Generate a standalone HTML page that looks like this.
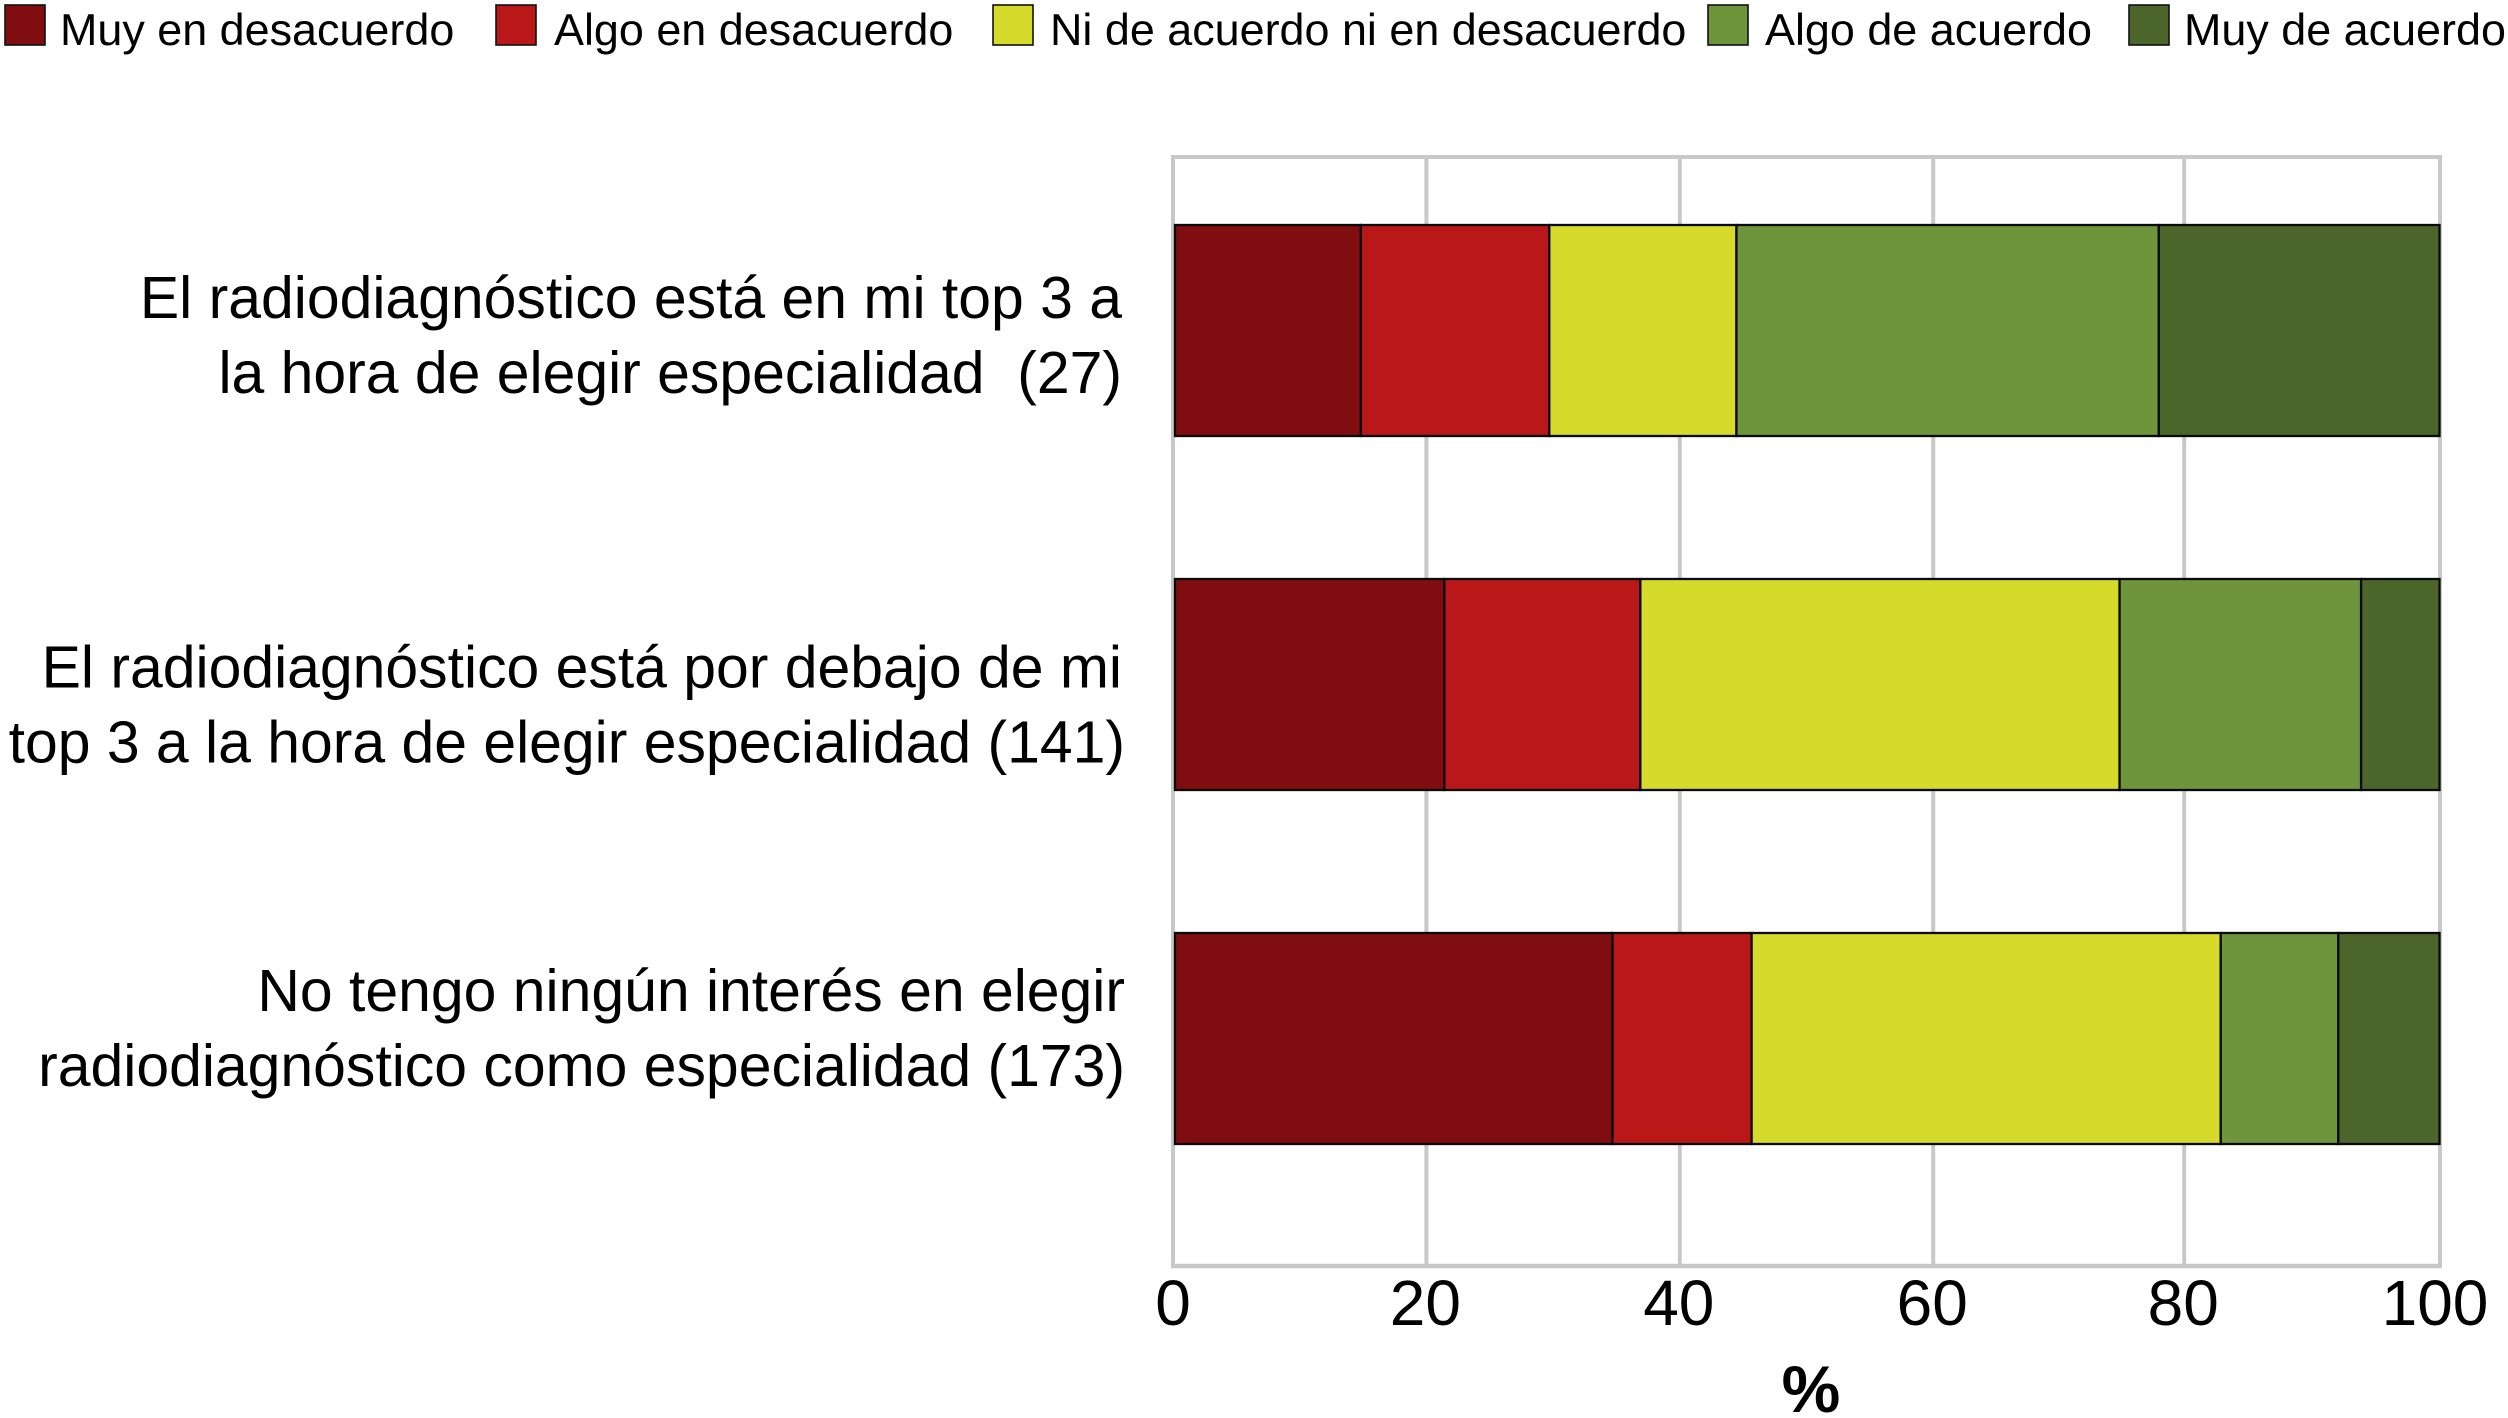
<!DOCTYPE html>
<html lang="es">
<head>
<meta charset="utf-8">
<title>Radiodiagnóstico como especialidad</title>
<style>
html,body{margin:0;padding:0;background:#fff;}
svg{display:block;font-family:"Liberation Sans",Arial,sans-serif;fill:#000;}
</style>
</head>
<body>
<svg id="chart" xmlns="http://www.w3.org/2000/svg" width="2508" height="1418" viewBox="0 0 2508 1418">
  <rect x="0" y="0" width="2508" height="1418" fill="#ffffff"/>
  <g id="legend"></g>
  <g id="grid"></g>
  <g id="bars"></g>
  <g id="categories"></g>
  <g id="ticks"></g>
  <text x="1811" y="1412" text-anchor="middle" font-size="66" font-weight="bold">%</text>
</svg>
<script>
const seriesNames = ["Muy en desacuerdo", "Algo en desacuerdo", "Ni de acuerdo ni en desacuerdo", "Algo de acuerdo", "Muy de acuerdo"];
const seriesColors = ["#800d10", "#ba1718", "#d6da2b", "#6f953c", "#4c652a"];
const categoryLines = [
  ["El radiodiagnóstico está en mi top 3 a", "la hora de elegir especialidad  (27)"],
  ["El radiodiagnóstico está por debajo de mi", "top 3 a la hora de elegir especialidad (141)"],
  ["No tengo ningún interés en elegir", "radiodiagnóstico como especialidad (173)"]
];
const muyDesacuerdo = [14.7, 21.3, 34.6];
const algoDesacuerdo = [14.9, 15.5, 11.0];
const niDeAcuerdo = [14.8, 37.9, 37.1];
const algoAcuerdo = [33.4, 19.1, 9.3];
const muyAcuerdo = [22.2, 6.2, 8.0];
const tickValues = [0, 20, 40, 60, 80, 100];

const series = [muyDesacuerdo, algoDesacuerdo, niDeAcuerdo, algoAcuerdo, muyAcuerdo];
const NS = "http://www.w3.org/2000/svg";
const plot = {left: 1173, right: 2440, top: 157, bottom: 1266};
const barLeft = 1175, barRight = 2439.5, barHeight = 211;
const bandStart = 225, bandStep = 354;
const gridX = v => plot.left + (plot.right - plot.left) * v / 100 - (v === 80 ? 2.4 : 0);
const barX = v => barLeft + (barRight - barLeft) * v / 100;
const bandY = i => bandStart + bandStep * i;

function make(tag, attrs, parent, text) {
  const el = document.createElementNS(NS, tag);
  for (const k in attrs) el.setAttribute(k, attrs[k]);
  if (text !== undefined) el.textContent = text;
  parent.appendChild(el);
  return el;
}

/* legend */
const legend = document.getElementById("legend");
const swatchXs = [4, 495, 992, 1707, 2128];
const legendTextGap = [56, 59, 58, 58, 56];
seriesNames.forEach((name, s) => {
  const sw = make("rect", {x: swatchXs[s] + 1, y: 5, width: 40, height: 40, fill: seriesColors[s], stroke: "#111", "stroke-width": 1.6}, legend);
  
  
  const t = make("text", {x: swatchXs[s] + legendTextGap[s], y: 45, "font-size": 44.9}, legend, name);
  
  
});

/* grid and plot frame */
const grid = document.getElementById("grid");
tickValues.forEach(v => {
  const l = make("line", {x1: gridX(v), x2: gridX(v), y1: plot.top, y2: plot.bottom, stroke: "#c8c8c8", "stroke-width": 4}, grid);
  
  
});
const topLine = make("line", {x1: plot.left - 2, x2: plot.right + 2, y1: plot.top, y2: plot.top, stroke: "#c8c8c8", "stroke-width": 4}, grid);


const botLine = make("line", {x1: plot.left - 2, x2: plot.right + 2, y1: plot.bottom, y2: plot.bottom, stroke: "#c8c8c8", "stroke-width": 4.4}, grid);



/* bars */
const bars = document.getElementById("bars");
categoryLines.forEach((lines, c) => {
  let cum = 0;
  series.forEach((vals, s) => {
    const v = vals[c];
    const r = make("rect", {x: barX(cum), y: bandY(c), width: barX(cum + v) - barX(cum), height: barHeight, fill: seriesColors[s], stroke: "#0a0a0a", "stroke-width": 2.3}, bars);
    
    
    cum += v;
  });
});

/* category labels */
const cats = document.getElementById("categories");
const catRightEdge = (c, i) => (c === 0 ? 1122 : c === 1 ? (i === 0 ? 1122 : 1125) : 1125);
const catBase = [318, 687.5, 1011];
categoryLines.forEach((lines, c) => {
  lines.forEach((line, i) => {
    const t = make("text", {x: catRightEdge(c, i), y: catBase[c] + i * 75, "text-anchor": "end", "font-size": 58.9}, cats, line);
    t.style.whiteSpace = "pre";
    
    
  });
});

/* ticks */
const ticks = document.getElementById("ticks");
tickValues.forEach(v => {
  const t = make("text", {x: gridX(v) - (v === 100 ? 5 : v === 0 ? 0 : 1), y: 1325, "text-anchor": "middle", "font-size": 64}, ticks, String(v));
  
  
});
</script>
</body>
</html>
